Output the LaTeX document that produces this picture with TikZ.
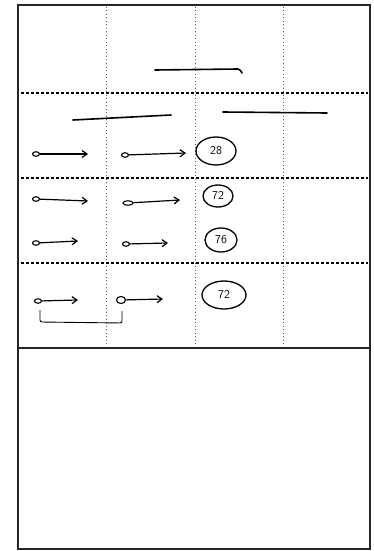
\documentclass[tikz,border=0pt]{standalone}
\usetikzlibrary{arrows.meta,shapes.geometric}

\begin{document}
\begin{tikzpicture}[
  x=1pt, y=-1pt,
  frame/.style={line width=1.8pt, draw=black!85},
  rowsep/.style={line width=1.1pt, dash pattern=on 3pt off 2pt},
  colsep/.style={line width=0.7pt, dash pattern=on 1pt off 2.5pt, draw=black!65},
  blank/.style={line width=1.6pt, line cap=round},
  dot/.style={draw, ellipse, line width=1.1pt, minimum width=7pt, minimum height=4.5pt, inner sep=0pt},
  harrow/.style={-{Straight Barb[length=5pt, width=7pt]}, line width=1.2pt},
  tag/.style={draw, ellipse, line width=1.3pt, inner sep=1pt, font=\sffamily\large},
  bracket/.style={line width=0.9pt, rounded corners=2pt}
]
\useasboundingbox (0,0) rectangle (374,551);

% frame and the two panels
\draw[frame] (18,5) rectangle (370,549);
\draw[frame] (18,348) -- (370,348);

% column guides
\foreach \cx in {106,195,283}
  \draw[colsep] (\cx,7) -- (\cx,346);

% row separators
\foreach \ry in {93,178,263}
  \draw[rowsep] (21,\ry) -- (368,\ry);

% blanks
\draw[blank] (155,70) -- (238,69) to[bend left=25] (242,73);
\draw[blank] (73,120) -- (171,115);
\draw[blank] (223,112) -- (327,113);

% row 1
\node[dot] (d11) at (36,154) {};
\coordinate (t11) at (88,154);
\draw[harrow] (d11) -- (t11);
\node[dot] (d12) at (125,155) {};
\coordinate (t12) at (186,153);
\draw[harrow] (d12) -- (t12);
\node[tag, minimum width=40pt, minimum height=28pt] (n28) at (216,151) {28};

% row 2
\node[dot] (d21) at (36,199) {};
\coordinate (t21) at (88,201);
\draw[harrow] (d21) -- (t21);
\node[dot, minimum width=10pt] (d22) at (128,203) {};
\coordinate (t22) at (180,200);
\draw[harrow] (d22) -- (t22);
\node[tag, minimum width=30pt, minimum height=22pt] (n72a) at (218,196) {72};

% row 3
\node[dot] (d31) at (36,243) {};
\coordinate (t31) at (78,241);
\draw[harrow] (d31) -- (t31);
\node[dot] (d32) at (126,244) {};
\coordinate (t32) at (168,243);
\draw[harrow] (d32) -- (t32);
\node[tag, minimum width=32pt, minimum height=24pt] (n76) at (221,240) {76};

% row 4
\node[dot] (d41) at (38,301) {};
\coordinate (t41) at (78,300);
\draw[harrow] (d41) -- (t41);
\node[dot, minimum width=9pt, minimum height=7pt] (d42) at (121,300) {};
\coordinate (t42) at (163,299);
\draw[harrow] (d42) -- (t42);
\node[tag, minimum width=44pt, minimum height=28pt] (n72b) at (224,295) {72};

% bracket under row 4
\coordinate (b1) at (40,310);
\coordinate (b2) at (122,311);
\draw[bracket] (b1) -- (40,322) -- (122,323) -- (b2);

\end{tikzpicture}
\end{document}
